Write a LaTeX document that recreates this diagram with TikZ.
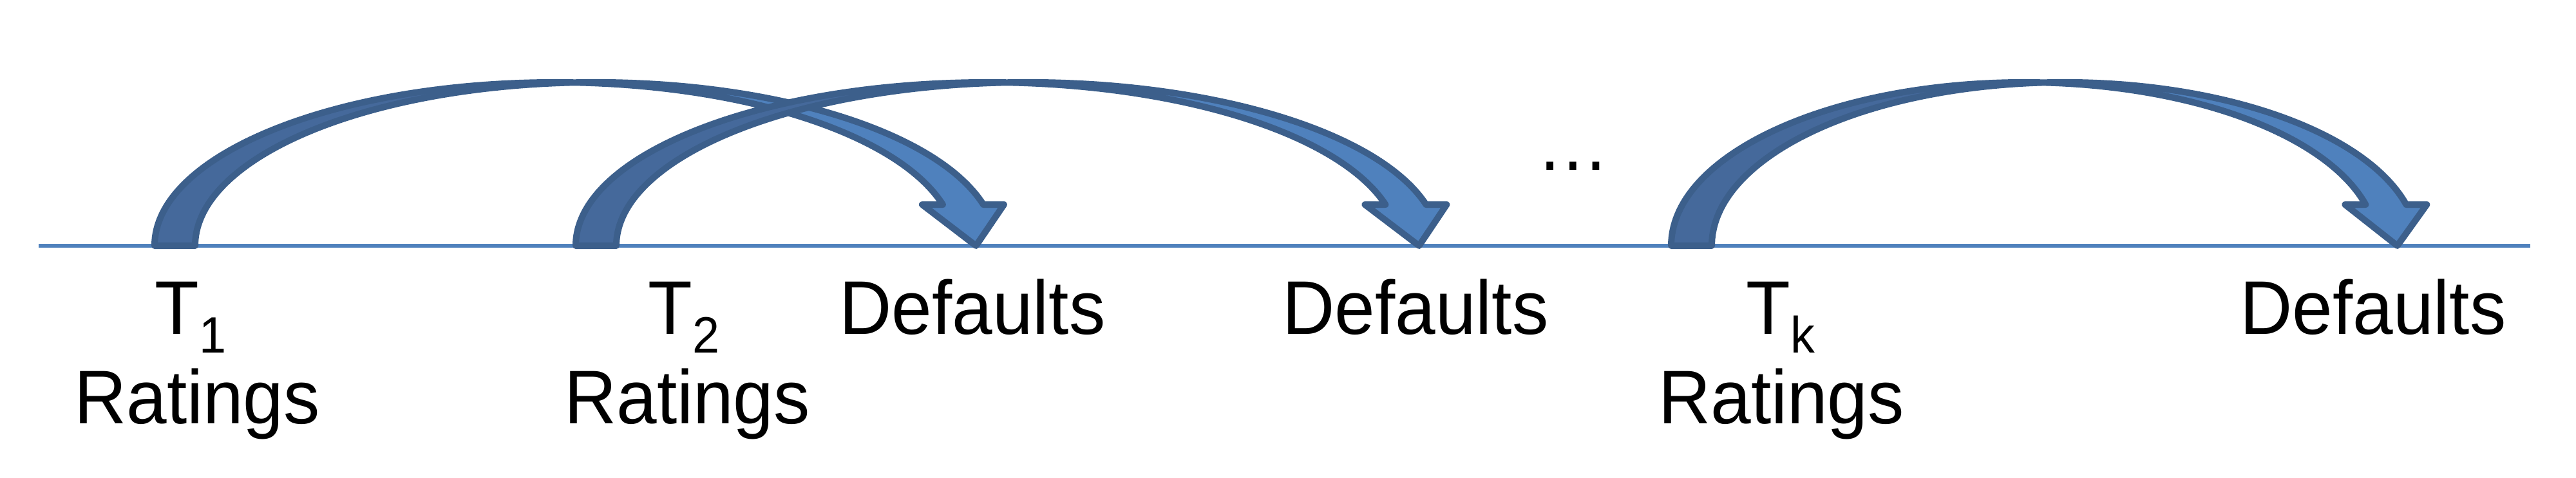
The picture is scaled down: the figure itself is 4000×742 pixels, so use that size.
\documentclass[tikz,border=0pt]{standalone}
\usepackage{fontspec}
\setmainfont{Liberation Sans}
\definecolor{arrowfront}{HTML}{4F81BD}
\definecolor{arrowback}{HTML}{45699B}
\definecolor{arrowline}{HTML}{3C5F8B}
\tikzset{
  label text/.style={font=\fontsize{32}{36}\selectfont, inner sep=0pt, anchor=base,
    yscale=1.05, transform shape},
  arrow edge/.style={draw=arrowline, line width=0.1cm, line join=round},
  ell/.style={x radius=\r, y radius=254},
}
\newcommand{\tsub}[1]{\raisebox{-0.28cm}{\fontsize{21.5}{22}\selectfont #1}}
\begin{document}
\begin{tikzpicture}[x=0.01cm,y=0.01cm]
      \useasboundingbox (0,0) rectangle (4000,742);
      \coordinate (start) at (60,360);
      \coordinate (end) at (3929,360);
      \draw[arrowfront, line width=0.05cm] (start) -- (end);
      \foreach \l/\r in {240/622, 894/639, 2595/548} {
        \pgfmathsetmacro{\ang}{asin(64/254)}
        \pgfmathsetmacro{\xa}{\l+\r+\r*cos(\ang)}
        \pgfmathsetmacro{\xb}{\xa+63}
        \pgfmathsetmacro{\tip}{\l+2*\r+31.5}
        \pgfmathsetmacro{\xc}{\l+\r+31.5}
        \pgfmathsetmacro{\yc}{360+254*sqrt(1-(31.5/\r)^2)}
        \pgfmathsetmacro{\inang}{acos(31.5/\r)}
        \pgfmathsetmacro{\outang}{acos(-31.5/\r)}
        \fill[arrowfront] (\tip,360) -- (\xa-32,424) -- (\xa,424)
          arc[ell, start angle=\ang, end angle=90] -- ++(63,0)
          arc[ell, start angle=90, end angle=\ang] -- (\xb+32,424) -- cycle;
        \fill[arrowback] (\xc,\yc) arc[ell, start angle=\outang, end angle=180]
          -- (\l,360) arc[ell, start angle=180, end angle=\inang] -- cycle;
        \draw[arrow edge] (\l,360) arc[ell, start angle=180, end angle=\ang]
          -- (\xa-32,424) -- (\tip,360) -- (\xb+32,424) -- (\xb,424)
          arc[ell, start angle=\ang, end angle=180] -- cycle;
      }
      \node[label text] (t1) at (296,223) {T\tsub{1}};
      \node[label text] (r1) at (306,84) {Ratings};
      \node[label text] (t2) at (1062,223) {T\tsub{2}};
      \node[label text] (r2) at (1067,84) {Ratings};
      \node[label text] (d1) at (1510,223) {Defaults};
      \node[label text] (d2) at (2198,223) {Defaults};
      \node[label text] (dots) at (2443,477) {…};
      \node[label text] (tk) at (2765,223) {T\tsub{k}};
      \node[label text] (r3) at (2766,84) {Ratings};
      \node[label text] (d3) at (3685,223) {Defaults};
\end{tikzpicture}
\end{document}
